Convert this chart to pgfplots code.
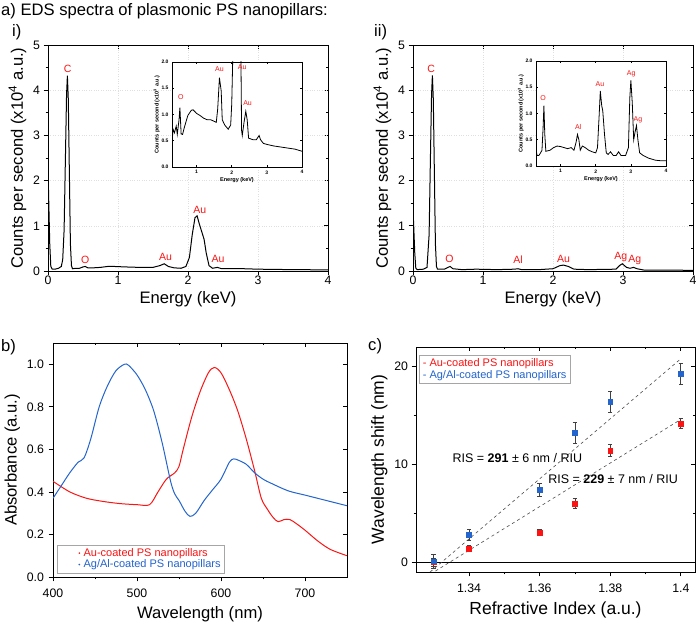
\documentclass[border=0pt]{standalone}
\usepackage{pgfplots}
\pgfplotsset{compat=1.18}
\usepackage{fontspec}
\setmainfont{Liberation Sans}
\definecolor{myblue}{RGB}{35,100,205}
\definecolor{myred}{RGB}{250,20,20}
\pgfplotsset{
  every axis/.append style={
    scale only axis, axis line style={line width=0.8pt},
    every tick/.style={line width=0.8pt, black},
    major tick length=4.5pt, minor tick length=2.5pt,
    /pgf/number format/assume math mode=true,
    ticklabel style={font=\fontsize{12.3}{14}\selectfont},
    label style={font=\fontsize{16.6}{18}\selectfont},
  },
  mainax/.style={tick align=outside, xtick pos=lower, ytick pos=left},
  mirrorax/.style={tick align=inside, xtick pos=upper, ytick pos=right,
    xticklabels={}, yticklabels={}, xlabel={}, ylabel={}},
  panA/.style={width=280pt, height=226pt,
    xmin=0, xmax=4, ymin=0, ymax=5, xtick={0,1,2,3,4}, ytick={0,1,2,3,4,5},
    minor y tick num=1},
  panB/.style={width=294pt, height=234pt,
    xmin=400, xmax=750, ymin=0, ymax=1.1, xtick={400,500,600,700}, minor x tick num=1,
    ytick={0,0.2,0.4,0.6,0.8,1.0}},
  panC/.style={width=279pt, height=225pt,
    xmin=1.325, xmax=1.404, ymin=-1, ymax=22,
    xtick={1.34,1.36,1.38,1.4}, ytick={0,10,20}, minor x tick num=1, minor y tick num=1},
  insetstyle/.style={
    width=130pt, height=105pt, xmin=0.3, xmax=4, ymin=0, ymax=2, tick align=inside,
    xtick={1,2,3,4}, ytick={0,0.5,1,1.5,2},
    yticklabel style={/pgf/number format/.cd, fixed, precision=1, fixed zerofill},
    ticklabel style={font=\fontsize{5}{6}\selectfont\bfseries},
    label style={font=\fontsize{5.5}{6}\selectfont\bfseries},
    major tick length=2pt, axis line style={line width=0.6pt},
    every tick/.style={line width=0.5pt, black},
    xlabel={Energy (keV)}, ylabel={Counts per second (x10\textsuperscript{3} a.u.)},
    xlabel shift=-3pt, ylabel shift=-5pt,
    axis background/.style={fill=white},
  },
}
\tikzset{
  lab/.style={myred, font=\fontsize{10.5}{12}\selectfont},
  slab/.style={myred, font=\fontsize{7}{8}\selectfont},
}
\begin{document}
\begin{tikzpicture}
\useasboundingbox (0pt,0pt) rectangle (700pt,628pt);
\node[anchor=north west, font=\fontsize{16.6}{18}\selectfont, inner sep=0pt] at (1pt,625pt) {a) EDS spectra of plasmonic PS nanopillars:};
\node[anchor=north west, font=\fontsize{16.6}{18}\selectfont, inner sep=0pt] at (12pt,604pt) {i)};
\node[anchor=north west, font=\fontsize{16.6}{18}\selectfont, inner sep=0pt] at (374pt,604pt) {ii)};
\node[anchor=north west, font=\fontsize{16.6}{18}\selectfont, inner sep=0pt] at (1pt,289pt) {b)};
\node[anchor=north west, font=\fontsize{16.6}{18}\selectfont, inner sep=0pt] at (368pt,290pt) {c)};

% ---------- a) i ----------
\begin{axis}[panA, mirrorax, at={(48pt,357pt)}, anchor=south west]
\addplot[draw=none] coordinates {(1,1)};
\end{axis}
\begin{axis}[panA, mainax, at={(48pt,357pt)}, anchor=south west,
  xticklabel shift=-3pt,
  xlabel={Energy (keV)}, ylabel={Counts per second (x10\textsuperscript{4} a.u.)},
  grid=major, major grid style={dotted, gray!25}]
\addplot[black, line width=1pt] coordinates {
(0,2.28)(0.01,1.6)(0.025,0.6)(0.04,0.1)(0.06,0.04)(0.1,0.04)(0.15,0.06)(0.19,0.1)
(0.21,0.25)(0.23,0.9)(0.25,2.6)(0.265,3.9)(0.277,4.32)(0.29,3.8)(0.305,2.2)(0.32,0.6)
(0.335,0.12)(0.35,0.05)(0.4,0.06)(0.45,0.06)(0.5,0.09)(0.53,0.1)(0.57,0.07)(0.65,0.07)
(0.75,0.08)(0.85,0.1)(0.95,0.1)(1.1,0.09)(1.3,0.08)(1.5,0.08)(1.6,0.12)(1.66,0.16)
(1.72,0.1)(1.8,0.07)(1.9,0.06)(1.97,0.1)(2.02,0.3)(2.06,0.8)(2.1,1.18)(2.13,1.22)
(2.16,1.05)(2.2,0.85)(2.23,0.7)(2.26,0.4)(2.3,0.12)(2.35,0.06)(2.42,0.08)(2.48,0.05)
(2.6,0.05)(2.8,0.05)(3.0,0.04)(3.5,0.03)(4.0,0.025)};
\node[lab] at (axis cs:0.28,4.47) {C};
\node[lab] at (axis cs:0.53,0.24) {O};
\node[lab] at (axis cs:1.68,0.31) {Au};
\node[lab] at (axis cs:2.17,1.35) {Au};
\node[lab] at (axis cs:2.43,0.27) {Au};
\end{axis}

\begin{axis}[at={(172pt,461pt)}, anchor=south west, insetstyle]
\addplot[black, line width=0.8pt] coordinates {
(0.3,0.45)(0.33,0.72)(0.37,0.65)(0.42,0.78)(0.45,0.62)(0.5,0.9)(0.525,1.13)(0.56,0.63)
(0.6,0.62)(0.65,0.75)(0.75,0.98)(0.85,1.08)(0.9,1.09)(1.0,1.02)(1.1,0.98)(1.2,0.93)
(1.3,0.9)(1.4,0.9)(1.5,0.87)(1.56,0.85)(1.6,1.1)(1.65,1.7)(1.7,1.45)(1.73,0.9)(1.8,0.8)
(1.9,0.72)(1.97,0.8)(2.0,1.2)(2.04,2.4)(2.08,6)(2.13,12.2)(2.2,8.5)(2.25,3)(2.28,0.7)
(2.3,0.6)(2.35,0.85)(2.4,1.06)(2.44,0.9)(2.48,0.55)(2.6,0.52)(2.7,0.52)(2.78,0.6)
(2.82,0.52)(2.9,0.45)(3.0,0.43)(3.2,0.4)(3.5,0.37)(3.8,0.34)(4.0,0.3)};
\node[slab] at (axis cs:0.55,1.33) {O};
\node[slab] at (axis cs:1.65,1.87) {Au};
\node[slab] at (axis cs:2.3,1.9) {Au};
\node[slab] at (axis cs:2.45,1.22) {Au};
\end{axis}

% ---------- a) ii ----------
\begin{axis}[panA, mirrorax, at={(413pt,357pt)}, anchor=south west]
\addplot[draw=none] coordinates {(1,1)};
\end{axis}
\begin{axis}[panA, mainax, at={(413pt,357pt)}, anchor=south west,
  xticklabel shift=-3pt,
  xlabel={Energy (keV)}, ylabel={Counts per second (x10\textsuperscript{4} a.u.)},
  grid=major, major grid style={dotted, gray!25}]
\addplot[black, line width=1pt] coordinates {
(0,1.38)(0.01,1.0)(0.025,0.4)(0.04,0.06)(0.06,0.03)(0.15,0.04)(0.2,0.08)(0.23,0.8)
(0.25,2.6)(0.265,3.9)(0.277,4.33)(0.29,3.8)(0.305,2.2)(0.32,0.6)(0.335,0.1)(0.35,0.04)
(0.45,0.04)(0.5,0.08)(0.53,0.1)(0.57,0.05)(0.7,0.03)(0.9,0.04)(1.2,0.03)(1.45,0.04)
(1.5,0.05)(1.55,0.03)(1.8,0.03)(2.0,0.05)(2.1,0.12)(2.15,0.13)(2.22,0.1)(2.3,0.04)
(2.5,0.03)(2.9,0.04)(2.95,0.12)(2.99,0.16)(3.05,0.08)(3.1,0.06)(3.15,0.08)(3.2,0.05)
(3.3,0.02)(3.5,0.02)(4,0.015)};
\node[lab] at (axis cs:0.26,4.47) {C};
\node[lab] at (axis cs:0.52,0.27) {O};
\node[lab] at (axis cs:1.5,0.25) {Al};
\node[lab] at (axis cs:2.15,0.27) {Au};
\node[lab] at (axis cs:2.97,0.31) {Ag};
\node[lab] at (axis cs:3.17,0.24) {Ag};
\end{axis}

\begin{axis}[at={(536pt,462pt)}, anchor=south west, insetstyle]
\addplot[black, line width=0.8pt] coordinates {
(0.3,0.32)(0.33,0.2)(0.38,0.2)(0.43,0.25)(0.47,0.3)(0.5,0.7)(0.525,1.15)(0.55,0.6)
(0.58,0.28)(0.7,0.3)(0.8,0.35)(0.9,0.38)(1.0,0.37)(1.1,0.35)(1.2,0.33)(1.3,0.35)
(1.38,0.3)(1.44,0.45)(1.48,0.6)(1.52,0.5)(1.56,0.3)(1.62,0.38)(1.7,0.35)(1.8,0.3)
(1.9,0.27)(2.0,0.25)(2.05,0.35)(2.1,1.0)(2.13,1.43)(2.17,1.15)(2.2,1.05)(2.25,0.6)
(2.3,0.25)(2.35,0.22)(2.42,0.27)(2.5,0.2)(2.58,0.2)(2.65,0.27)(2.72,0.2)(2.85,0.2)
(2.93,0.35)(2.97,1.3)(3.0,1.63)(3.04,1.2)(3.08,0.5)(3.12,0.65)(3.16,0.77)(3.2,0.5)
(3.25,0.25)(3.35,0.2)(3.5,0.15)(3.7,0.11)(3.85,0.1)(4.0,0.1)};
\node[slab] at (axis cs:0.5,1.3) {O};
\node[slab] at (axis cs:1.5,0.75) {Al};
\node[slab] at (axis cs:2.12,1.56) {Au};
\node[slab] at (axis cs:3.01,1.75) {Ag};
\node[slab] at (axis cs:3.2,0.87) {Ag};
\end{axis}

% ---------- b ----------
\begin{axis}[panB, mirrorax, at={(53pt,51pt)}, anchor=south west]
\addplot[draw=none] coordinates {(500,0.5)};
\end{axis}
\begin{axis}[panB, mainax, at={(53pt,51pt)}, anchor=south west,
  yticklabel style={/pgf/number format/.cd, fixed, precision=1, fixed zerofill},
  xticklabel shift=4pt, yticklabel shift=1pt,
  xlabel={Wavelength (nm)}, ylabel={Absorbance (a.u.)}, xlabel shift=2pt,
  legend style={at={(0.014,0.017)}, anchor=south west, draw=gray!70, line width=0.5pt,
    font=\fontsize{11}{12.5}\selectfont, row sep=-2pt, inner sep=1.5pt},
  legend cell align=left]
\addplot[myred, line width=1pt, smooth,
  legend image code/.code={\path[draw=none] (0,0) -- (0.8cm,0); \fill[myred, draw=none] (0.72cm,0) circle (0.9pt);}] coordinates {
(400,0.45)(420,0.40)(440,0.37)(460,0.355)(480,0.345)(500,0.34)(515,0.34)(525,0.40)
(535,0.46)(545,0.49)(550,0.52)(555,0.6)(565,0.75)(575,0.87)(585,0.96)(592,0.985)
(600,0.96)(610,0.88)(620,0.78)(630,0.65)(640,0.5)(648,0.37)(655,0.32)(662,0.28)
(668,0.26)(675,0.27)(682,0.27)(690,0.25)(700,0.22)(715,0.17)(730,0.13)(750,0.10)};
\addlegendentry{\textcolor{myred}{Au-coated PS nanopillars}}
\addplot[myblue, line width=1pt, smooth,
  legend image code/.code={\path[draw=none] (0,0) -- (0.8cm,0); \fill[myblue, draw=none] (0.72cm,0) circle (0.9pt);}] coordinates {
(400,0.37)(410,0.43)(420,0.49)(430,0.54)(437,0.56)(445,0.65)(455,0.80)(465,0.9)
(475,0.97)(485,1.0)(490,0.995)(500,0.95)(510,0.88)(520,0.78)(530,0.63)(540,0.45)
(545,0.39)(550,0.36)(557,0.31)(563,0.285)(570,0.3)(580,0.36)(590,0.41)(600,0.46)
(610,0.54)(615,0.555)(620,0.55)(630,0.53)(640,0.49)(650,0.46)(660,0.44)(680,0.405)
(700,0.385)(720,0.365)(750,0.335)};
\addlegendentry{\textcolor{myblue}{Ag/Al-coated PS nanopillars}}
\end{axis}

% ---------- c ----------
\begin{axis}[panC, mirrorax, at={(416pt,56pt)}, anchor=south west]
\addplot[draw=none] coordinates {(1.36,5)};
\end{axis}
\begin{axis}[panC, mainax, at={(416pt,56pt)}, anchor=south west,
  xticklabels={1.34,1.36,1.38,1.4}, xticklabel shift=4pt,
  xlabel={Refractive Index (a.u.)}, ylabel={Wavelength shift (nm)}, xlabel shift=2pt,
  label style={font=\fontsize{17.5}{19}\selectfont},
  legend style={at={(0.011,0.964)}, anchor=north west, draw=gray!70, line width=0.5pt,
    font=\fontsize{11}{12}\selectfont, row sep=-2pt, inner sep=1.5pt},
  legend cell align=left]
\addplot[black, line width=0.8pt, forget plot] coordinates {(1.325,0)(1.404,0)};
\addplot[gray!60!black, dashed, line width=0.6pt, forget plot] coordinates {(1.329,-1)(1.40,20.8)};
\addplot[gray!60!black, dashed, line width=0.6pt, forget plot] coordinates {(1.3305,-0.9)(1.40,14.6)};
\addplot[only marks, mark=square*, mark size=2.4pt, myred, mark options={fill=myred, draw=myred},
  legend image code/.code={},
  error bars/.cd, y dir=both, y explicit,
  error bar style={line width=0.8pt, black!75},
  error mark options={rotate=90, mark size=2.2pt, line width=0.8pt, black!75},
] coordinates {
(1.33,0.0) +- (0,0.4)
(1.34,1.42) +- (0,0.3)
(1.36,3.05) +- (0,0.3)
(1.37,6.0) +- (0,0.5)
(1.38,11.4) +- (0,0.6)
(1.40,14.2) +- (0,0.5)};
\addlegendentry{\textcolor{myred}{- Au-coated PS nanopillars}}
\addplot[only marks, mark=square*, mark size=2.4pt, myblue, mark options={fill=myblue, draw=myblue},
  legend image code/.code={},
  error bars/.cd, y dir=both, y explicit,
  error bar style={line width=0.8pt, black!75},
  error mark options={rotate=90, mark size=2.2pt, line width=0.8pt, black!75},
] coordinates {
(1.33,0.1) +- (0,0.7)
(1.34,2.8) +- (0,0.6)
(1.36,7.4) +- (0,0.7)
(1.37,13.2) +- (0,1.1)
(1.38,16.4) +- (0,1.1)
(1.40,19.25) +- (0,1.05)};
\addlegendentry{\textcolor{myblue}{- Ag/Al-coated PS nanopillars}}
\node[font=\fontsize{12.5}{14}\selectfont] at (axis cs:1.3537,10.6) {RIS = \textbf{291} ± 6 nm / RIU};
\node[font=\fontsize{12.5}{14}\selectfont] at (axis cs:1.3808,8.5) {RIS = \textbf{229} ± 7 nm / RIU};
\end{axis}
\end{tikzpicture}
\end{document}
